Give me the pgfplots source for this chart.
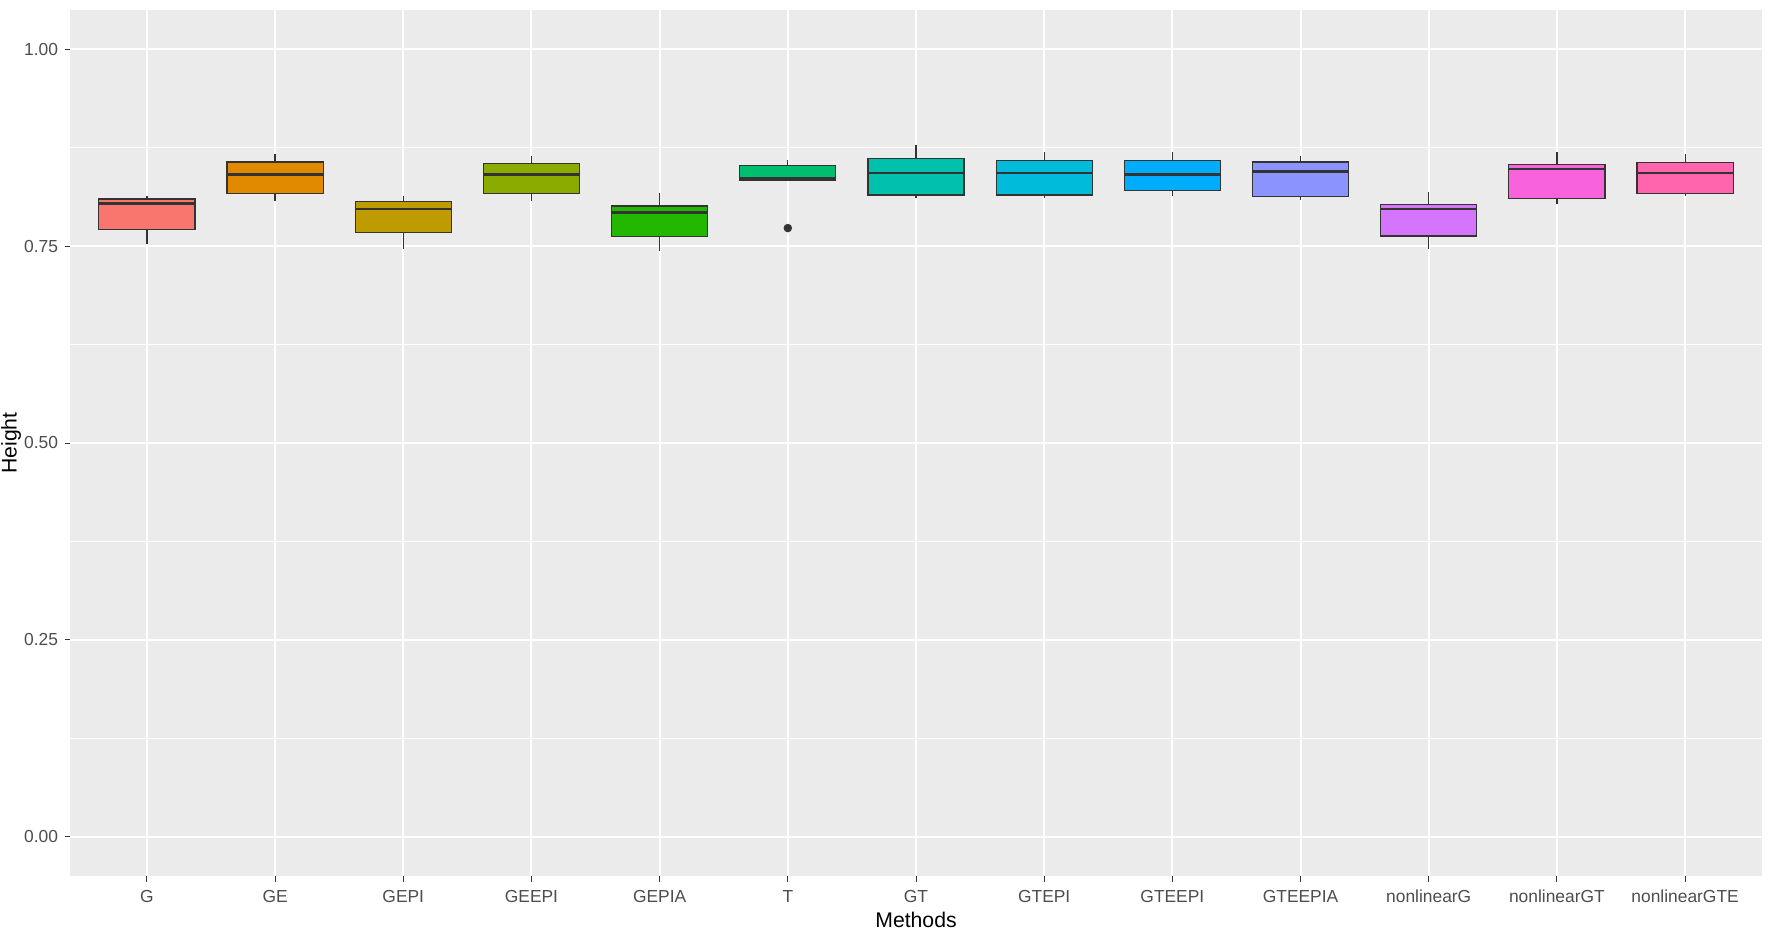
\documentclass[border=0pt]{standalone}
\usepackage{pgfplots}
\pgfplotsset{compat=1.18}
\usepgfplotslibrary{statistics}
\usepackage{fontspec}
\setmainfont{Liberation Sans}
\definecolor{bggrey}{HTML}{EBEBEB}
\definecolor{boxgrey}{HTML}{333333}
\definecolor{labgrey}{HTML}{4D4D4D}
\definecolor{c1}{HTML}{F8766D}
\definecolor{c2}{HTML}{E18A00}
\definecolor{c3}{HTML}{BE9C00}
\definecolor{c4}{HTML}{8CAB00}
\definecolor{c5}{HTML}{24B700}
\definecolor{c6}{HTML}{00BE70}
\definecolor{c7}{HTML}{00C1AB}
\definecolor{c8}{HTML}{00BBDA}
\definecolor{c9}{HTML}{00ACFC}
\definecolor{c10}{HTML}{8B93FF}
\definecolor{c11}{HTML}{D575FE}
\definecolor{c12}{HTML}{F962DD}
\definecolor{c13}{HTML}{FF65AC}
% position, lower whisker, lower quartile, median, upper quartile, upper whisker, colour
\newcommand{\bx}[7]{\addplot[fill=#7, draw=boxgrey, line width=0.6pt,
  boxplot prepared={draw position=#1, lower whisker=#2, lower quartile=#3,
  median=#4, upper quartile=#5, upper whisker=#6}] coordinates {};}
\begin{document}
\begin{tikzpicture}
\useasboundingbox (0,0) rectangle (886pt,469.5pt);
\begin{axis}[
  at={(35pt,31.5pt)}, anchor=south west,
  scale only axis, width=846pt, height=433pt,
  xmin=0.4, xmax=13.6, ymin=-0.05, ymax=1.05,
  axis background/.style={fill=bggrey},
  axis line style={draw=none},
  xtick={1,...,13},
  xticklabels={G,GE,GEPI,GEEPI,GEPIA,T,GT,GTEPI,GTEEPI,GTEEPIA,nonlinearG,nonlinearGT,nonlinearGTE},
  ytick={0,0.25,0.5,0.75,1},
  yticklabels={0.00,0.25,0.50,0.75,1.00},
  minor ytick={0.125,0.375,0.625,0.875},
  minor tick length=0pt,
  xmajorgrids, ymajorgrids, yminorgrids,
  major grid style={white, line width=1.0pt},
  minor grid style={white, line width=0.5pt},
  tick pos=left, tick align=outside, major tick length=2.75pt,
  major tick style={boxgrey, line width=0.5pt},
  ticklabel style={font=\fontsize{8.7pt}{10pt}\selectfont, text=labgrey},
  xticklabel style={anchor=base, yshift=-10.4pt},
  yticklabel style={anchor=east, inner sep=0pt, xshift=-3pt},
  xlabel={Methods}, ylabel={Height},
  every axis x label/.style={at={(axis description cs:0.5,-0.05935)}, anchor=base, font=\fontsize{10.6pt}{12pt}\selectfont},
  every axis y label/.style={at={(axis description cs:-0.03156,0.5)}, rotate=90, anchor=base, font=\fontsize{10.6pt}{12pt}\selectfont},
  boxplot/draw direction=y,
  boxplot/box extend=0.75,
  boxplot/whisker extend=0,
  boxplot/every median/.style={line width=1.3pt},
  boxplot/every whisker/.style={line width=0.6pt},
]
\bx{1}{0.753}{0.771}{0.804}{0.810}{0.814}{c1}
\bx{2}{0.808}{0.817}{0.841}{0.857}{0.867}{c2}
\bx{3}{0.746}{0.767}{0.797}{0.807}{0.814}{c3}
\bx{4}{0.808}{0.817}{0.841}{0.855}{0.865}{c4}
\bx{5}{0.744}{0.762}{0.793}{0.801}{0.817}{c5}
\addplot[fill=c6, draw=boxgrey, line width=0.6pt,
  mark=*, mark size=1.8pt, mark options={fill=boxgrey, draw=boxgrey},
  boxplot prepared={draw position=6, lower whisker=0.834, lower quartile=0.834,
  median=0.836, upper quartile=0.852, upper whisker=0.859}]
  table[row sep=\\, y index=0] {data\\ 0.773\\};
\bx{7}{0.811}{0.815}{0.843}{0.861}{0.878}{c7}
\bx{8}{0.811}{0.815}{0.843}{0.859}{0.870}{c8}
\bx{9}{0.814}{0.821}{0.841}{0.859}{0.870}{c9}
\bx{10}{0.809}{0.813}{0.845}{0.857}{0.865}{c10}
\bx{11}{0.746}{0.763}{0.797}{0.803}{0.819}{c11}
\bx{12}{0.804}{0.811}{0.848}{0.854}{0.869}{c12}
\bx{13}{0.814}{0.817}{0.843}{0.856}{0.867}{c13}
\end{axis}
\end{tikzpicture}
\end{document}
